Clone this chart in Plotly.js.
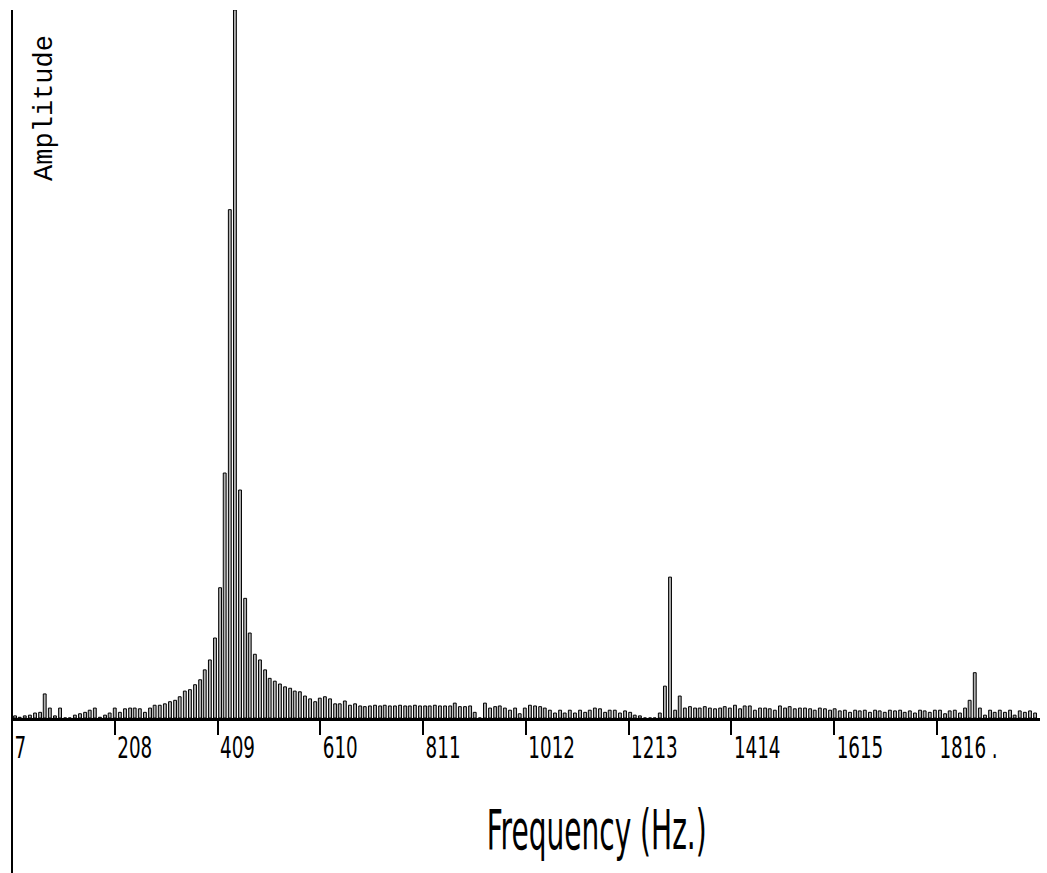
<!DOCTYPE html>
<html>
<head>
<meta charset="utf-8">
<script src="https://cdn.plot.ly/plotly-3.0.1.min.js"></script>
<style>html,body{margin:0;padding:0;background:#fff;}#chart{width:1047px;height:873px;}</style>
</head>
<body>
<div id="chart"></div>
<script>
// Bin centre frequencies (Hz)
const frequencies = [
  13,22,32,42,52,62,71,81,91,101,
  111,120,130,140,150,159,169,179,189,198,
  208,218,228,238,247,257,267,277,286,296,
  306,316,326,335,345,355,365,375,384,394,
  404,414,423,433,443,453,463,472,482,492,
  502,511,521,531,541,551,560,570,580,590,
  600,609,619,629,639,648,658,668,678,688,
  697,707,717,727,736,746,756,766,776,785,
  795,805,815,824,834,844,854,864,873,883,
  893,903,912,922,932,942,952,961,971,981,
  991,1000,1010,1020,1030,1040,1049,1059,1069,1079,
  1088,1098,1108,1118,1128,1137,1147,1157,1167,1176,
  1186,1196,1206,1216,1225,1235,1245,1255,1264,1274,
  1284,1294,1304,1313,1323,1333,1343,1352,1362,1372,
  1382,1392,1401,1411,1421,1431,1440,1450,1460,1470,
  1480,1489,1499,1509,1519,1528,1538,1548,1558,1568,
  1577,1587,1597,1607,1616,1626,1636,1646,1656,1665,
  1675,1685,1695,1704,1714,1724,1734,1744,1753,1763,
  1773,1783,1792,1802,1812,1822,1832,1841,1851,1861,
  1871,1880,1890,1900,1910,1920,1929,1939,1949,1959,
  1968,1978,1988,1998,2008
];
// Relative amplitude (largest peak = 100)
const amplitudes = [
  0.3,0.1,0.3,0.4,0.7,0.8,3.4,1.4,0.3,1.4,
  0,0,0.4,0.6,0.8,1.1,1.4,0.1,0.4,0.7,
  1.4,0.8,1.3,1.4,1.4,1.3,0.8,1.4,1.8,1.8,
  2.0,2.3,2.5,3.0,3.8,4.0,4.7,5.4,6.8,8.2,
  11.3,18.4,34.6,71.8,100,32.2,16.9,12.0,9.0,8.2,
  6.8,5.6,5.2,4.8,4.4,4.2,3.8,3.7,3.1,2.7,
  2.3,2.8,3.0,2.7,2.0,2.0,2.4,1.8,2.0,1.7,
  1.6,1.7,1.8,1.7,1.8,1.7,1.7,1.8,1.7,1.7,
  1.8,1.7,1.7,1.7,1.8,1.7,1.7,1.7,2.1,1.6,
  1.6,1.7,0.8,0,2.1,1.4,1.6,1.7,1.4,1.1,
  1.4,0.6,1.4,1.8,1.7,1.6,1.4,1.1,0.7,1.1,
  0.7,1.1,0.7,1.1,0.8,1.1,1.4,1.3,0.8,1.1,
  1.1,0.7,1.0,0.8,0.4,0.3,0,0,0,0.7,
  4.5,19.9,1.1,3.1,1.4,1.6,1.4,1.4,1.6,1.4,
  1.3,1.4,1.6,1.4,1.8,1.3,1.7,1.7,1.1,1.4,
  1.4,1.3,1.1,1.7,1.4,1.6,1.3,1.4,1.4,1.3,
  1.1,1.4,1.3,1.1,1.3,1.0,1.1,0.8,1.1,1.0,
  1.1,0.8,1.1,1.0,0.8,1.1,1.0,1.1,0.8,1.0,
  0.7,1.1,1.0,0.8,1.1,1.1,0.6,1.0,1.1,0.7,
  1.4,2.5,6.4,1.4,0.4,1.1,0.8,1.1,0.8,1.1,
  0.4,1.0,0.8,1.0,0.7
];
const tickValues = [7,208,409,610,811,1012,1213,1414,1615,1816];
const tickLabels = ["7","208","409","610","811","1012","1213","1414","1615","1816 ."];
const xTitle = "Frequency (Hz.)";
const yTitle = "Amplitude";

const narrow = "Liberation Sans Narrow, DejaVu Sans Condensed, sans-serif";

const trace = {
  type: "bar",
  x: frequencies,
  y: amplitudes,
  width: 5.6,
  marker: {color: "#b0b0b0", line: {color: "#000000", width: 1}},
  hoverinfo: "x+y"
};

const layout = {
  width: 1047,
  height: 873,
  margin: {l: 12, r: 7, t: 10, b: 155, pad: 0},
  paper_bgcolor: "#ffffff",
  plot_bgcolor: "#ffffff",
  showlegend: false,
  xaxis: {
    range: [7, 2017.6],
    tickmode: "array",
    tickvals: tickValues,
    ticktext: tickLabels,
    ticks: "outside",
    ticklen: 14,
    tickwidth: 2,
    tickcolor: "#000",
    ticklabelposition: "outside right",
    tickfont: {family: narrow, size: 31, color: "#000"},
    showline: true,
    linecolor: "#000",
    linewidth: 3,
    showgrid: false,
    zeroline: false
  },
  yaxis: {
    range: [0, 100],
    showticklabels: false,
    ticks: "",
    showline: false,
    showgrid: false,
    zeroline: false
  },
  shapes: [
    {type: "line", xref: "paper", yref: "paper", x0: 0, x1: 0, y0: -0.22, y1: 1,
     line: {color: "#000", width: 2}}
  ],
  annotations: [
    {text: xTitle, xref: "paper", yref: "paper", x: 0.569, y: -0.157,
     xanchor: "center", yanchor: "middle", showarrow: false,
     font: {family: narrow, size: 56, color: "#000"}},
    {text: yTitle, xref: "paper", yref: "paper", x: 0.0326, y: 0.861,
     xanchor: "center", yanchor: "middle", textangle: -90, showarrow: false,
     font: {family: "Liberation Mono, DejaVu Sans Mono, monospace", size: 27, color: "#000"}}
  ]
};

// Horizontally condense a text element (keeps it as real text)
function condense(el, sx, anchorMode) {
  const bb = el.getBBox();
  const cx = anchorMode === "center" ? bb.x + bb.width / 2 : bb.x;
  const prev = el.getAttribute("transform") || "";
  el.setAttribute("transform", (prev + " translate(" + cx + ",0) scale(" + sx + ",1) translate(" + (-cx) + ",0)").trim());
}

Plotly.newPlot("chart", [trace], layout, {displayModeBar: false, staticPlot: true}).then(function (gd) {
  // tick labels: target width of "208" ~ 35px
  const ticks = gd.querySelectorAll(".xtick text");
  let ref = null;
  ticks.forEach(function (t) { if (t.textContent === "208") ref = t; });
  if (ref) {
    const sx = 35 / ref.getBBox().width;
    ticks.forEach(function (t) { condense(t, sx, "left"); });
  }
  // axis title: target width ~220px
  gd.querySelectorAll(".annotation-text").forEach(function (t) {
    if (t.textContent === xTitle) {
      const sx = 220 / t.getBBox().width;
      condense(t, sx, "center");
    }
  });
});
</script>
</body>
</html>
